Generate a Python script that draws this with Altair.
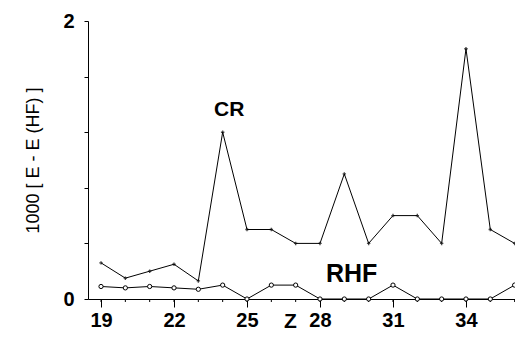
import altair as alt
import pandas as pd

z = list(range(19, 37))
cr = [0.26, 0.15, 0.20, 0.25, 0.13, 1.20, 0.50, 0.50, 0.40, 0.40, 0.90, 0.40, 0.60, 0.60, 0.40, 1.80, 0.50, 0.40]
rhf = [0.09, 0.08, 0.09, 0.08, 0.07, 0.10, 0.00, 0.10, 0.10, 0.00, 0.00, 0.00, 0.10, 0.00, 0.00, 0.00, 0.00, 0.10]
x_major = [19, 22, 25, 28, 31, 34]
y_ticks = [0, 0.2, 0.4, 0.6, 0.8, 1, 1.2, 1.4, 1.6, 1.8, 2]
label_text = ["CR", "RHF"]
label_x = [24.27, 29.3]
label_y = [1.36, 0.18]
label_size = [21, 25]

df_cr = pd.DataFrame({"Z": z, "v": cr})
df_rhf = pd.DataFrame({"Z": z, "v": rhf})
df_lab = pd.DataFrame({"t": label_text, "x": label_x, "y": label_y, "s": label_size})
df_minor = pd.DataFrame({"Z": z})

FONT = "Liberation Sans"

xs = alt.Scale(domain=[18.465, 36.015], nice=False, zero=False)
ys = alt.Scale(domain=[0, 2], nice=False)

xaxis = alt.Axis(values=x_major, tickSize=8, labelFontSize=20, labelFontWeight="bold",
                 labelFont=FONT, labelColor="black", labelPadding=3, grid=False,
                 domainColor="black", tickColor="black", title="Z", titleFont=FONT,
                 titleFontSize=21, titleFontWeight="bold", titleColor="black",
                 titleX=202, titleY=28, titleBaseline="alphabetic", titleAlign="center",
                 labelFlush=False, labelOverlap=False)
yaxis = alt.Axis(values=y_ticks, tickSize=4, labelFontSize=20, labelFontWeight="bold",
                 labelFont=FONT, labelColor="black", labelPadding=10, grid=False,
                 labelExpr="abs(round(datum.value) - datum.value) < 0.01 ? format(datum.value, 'd') : ''",
                 domainColor="black", tickColor="black", title="1000 [ E - E (HF) ]",
                 titleFont=FONT, titleFontSize=18, titleFontWeight="normal", titleColor="black",
                 titleAngle=-90, titleX=-55, titleY=139, titleAlign="center",
                 titleBaseline="middle", labelFlush=False, labelOverlap=False)

base_cr = alt.Chart(df_cr).encode(x=alt.X("Z:Q", scale=xs, axis=xaxis),
                                  y=alt.Y("v:Q", scale=ys, axis=yaxis))
line_cr = base_cr.mark_line(color="black", strokeWidth=1)
pts_cr = base_cr.mark_point(shape="cross", filled=True, color="black", size=12)

base_rhf = alt.Chart(df_rhf).encode(x=alt.X("Z:Q", scale=xs), y=alt.Y("v:Q", scale=ys))
line_rhf = base_rhf.mark_line(color="black", strokeWidth=1)
pts_rhf = base_rhf.mark_point(shape="circle", filled=True, fill="white", stroke="black",
                              strokeWidth=1, size=18, opacity=1)

minor = alt.Chart(df_minor).mark_rule(color="black", strokeWidth=1).encode(
    x=alt.X("Z:Q", scale=xs), y=alt.value(278), y2=alt.value(281))

labels = alt.Chart(df_lab).mark_text(font=FONT, fontWeight="bold", color="black",
                                     align="center", baseline="middle").encode(
    x=alt.X("x:Q", scale=xs), y=alt.Y("y:Q", scale=ys), text="t:N",
    size=alt.Size("s:Q", scale=None, legend=None))

chart = alt.layer(minor, line_cr, line_rhf, pts_cr, pts_rhf, labels).properties(
    width=427, height=278,
    autosize=alt.AutoSizeParams(type="none"),
    padding={"left": 80, "top": 13, "right": 0, "bottom": 34},
    background="white",
).configure_view(stroke=None)

chart.save("out.html", embed_options={"renderer": "svg", "actions": False})
